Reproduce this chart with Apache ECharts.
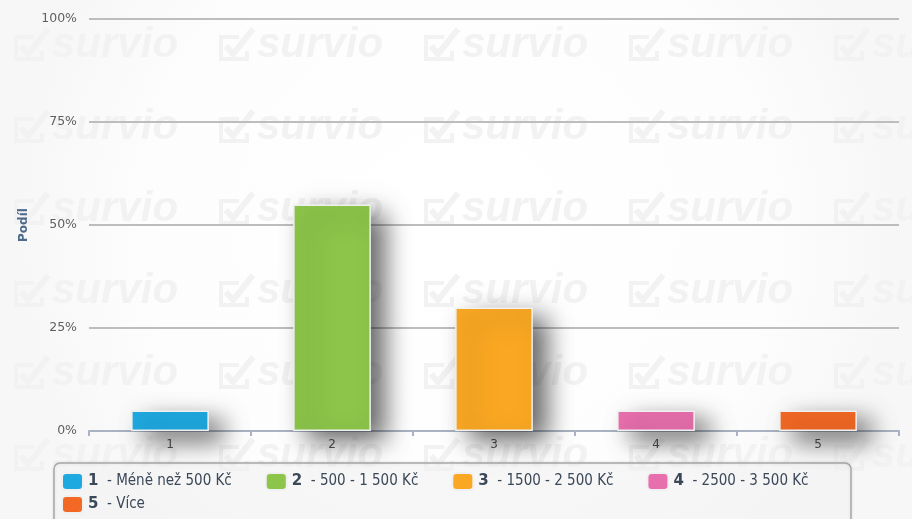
<!DOCTYPE html>
<html>
<head>
<meta charset="utf-8">
<script src="https://cdn.jsdelivr.net/npm/echarts@6/dist/echarts.min.js"></script>
<style>
html,body{margin:0;padding:0;background:#fff;}
#chart{width:912px;height:519px;}
</style>
</head>
<body>
<div id="chart"></div>
<script>
var categories = ['1', '2', '3', '4', '5'];
var legendLabels = ['Méně než 500 Kč', '500 - 1 500 Kč', '1500 - 2 500 Kč', '2500 - 3 500 Kč', 'Více'];
var values = [5, 55, 30, 5, 5];
var colors = ['#1fa9e1', '#8cc54a', '#faa823', '#e86fad', '#f26824'];
var yTicks = ['0%', '25%', '50%', '75%', '100%'];

var chart = echarts.init(document.getElementById('chart'), null, {renderer: 'canvas'});

// watermark tiles (decoration only)
var wm = '#f2f2f2';
var graphics = [];
for (var r = 0; r < 6; r++) {
  for (var c = 0; c < 5; c++) {
    var x0 = 12 + c * 205, y0 = 27 + r * 82;
    graphics.push({
      type: 'group', x: x0, y: y0, z: -5, silent: true,
      children: [
        {type: 'polyline', shape: {points: [[22, 10], [4, 10], [4, 32], [30, 32], [30, 24]]},
         style: {stroke: wm, lineWidth: 4, fill: null}},
        {type: 'polyline', shape: {points: [[9, 19], [16, 27], [36, 2]]},
         style: {stroke: wm, lineWidth: 6, fill: null}},
        {type: 'text', x: 40, y: -3,
         style: {text: 'survio', fontSize: 42, fontWeight: 'bold', fontStyle: 'italic',
                 fontFamily: 'Liberation Sans', fill: wm}}
      ]
    });
  }
}
// legend frame
graphics.push({
  type: 'rect', z: 1, silent: true,
  shape: {x: 54, y: 463, width: 797, height: 80, r: 6},
  style: {fill: 'rgba(255,255,255,0.55)', stroke: '#a8a8a8', lineWidth: 1.5,
          shadowColor: 'rgba(0,0,0,0.12)', shadowBlur: 3}
});

var series = categories.map(function (cat, i) {
  return {
    name: legendLabels[i],
    type: 'bar',
    barWidth: '48%',
    barGap: '-100%',
    data: values.map(function (v, j) { return j === i ? v : '-'; }),
    itemStyle: {
      color: colors[i],
      borderColor: '#f0f0f0',
      borderWidth: 1.5,
      shadowColor: 'rgba(0,0,0,0.6)',
      shadowBlur: 24,
      shadowOffsetX: 14,
      shadowOffsetY: 10
    }
  };
});

function legendCfg(data, top) {
  return {
    data: data,
    left: 61, top: top,
    padding: 0,
    itemGap: 33,
    itemWidth: 21, itemHeight: 17,
    icon: 'roundRect',
    formatter: function (name) {
      var i = legendLabels.indexOf(name);
      return '{b|' + categories[i] + '}{n|  - ' + name + '}';
    },
    textStyle: {
      rich: {
        b: {fontWeight: 'bold', fontSize: 15, color: '#3b4858', fontFamily: 'DejaVu Sans'},
        n: {fontSize: 15, color: '#3b4858', fontFamily: 'DejaVu Sans Condensed'}
      }
    }
  };
}

chart.setOption({
  backgroundColor: {
    type: 'radial', x: 0.5, y: 0.45, r: 0.85,
    colorStops: [{offset: 0, color: '#ffffff'}, {offset: 0.7, color: '#fdfdfd'}, {offset: 1, color: '#f7f7f7'}]
  },
  animation: false,
  textStyle: {fontFamily: 'DejaVu Sans'},
  graphic: graphics,
  grid: {left: 89, right: 13, top: 19, bottom: 88, containLabel: false},
  legend: [
    legendCfg(legendLabels.slice(0, 4), 472),
    legendCfg(legendLabels.slice(4), 495)
  ],
  xAxis: {
    type: 'category',
    data: categories,
    axisLine: {lineStyle: {color: '#a9b3c1', width: 2}},
    axisTick: {show: true, length: 5, lineStyle: {color: '#a9b3c1', width: 2}},
    axisLabel: {color: '#555555', fontSize: 12, margin: 8}
  },
  yAxis: {
    type: 'value',
    min: 0, max: 100, interval: 25,
    name: 'Podíl',
    nameLocation: 'middle',
    nameRotate: 90,
    nameGap: 58,
    nameTextStyle: {fontWeight: 'bold', fontSize: 12, color: '#4d6a8a'},
    axisLine: {show: false},
    axisTick: {show: false},
    axisLabel: {
      color: '#5f5f5f', fontSize: 12.5, margin: 12,
      formatter: function (v) { return yTicks[Math.round(v / 25)]; }
    },
    splitLine: {lineStyle: {color: '#bdbdbd', width: 2}}
  },
  series: series
});
</script>
</body>
</html>
